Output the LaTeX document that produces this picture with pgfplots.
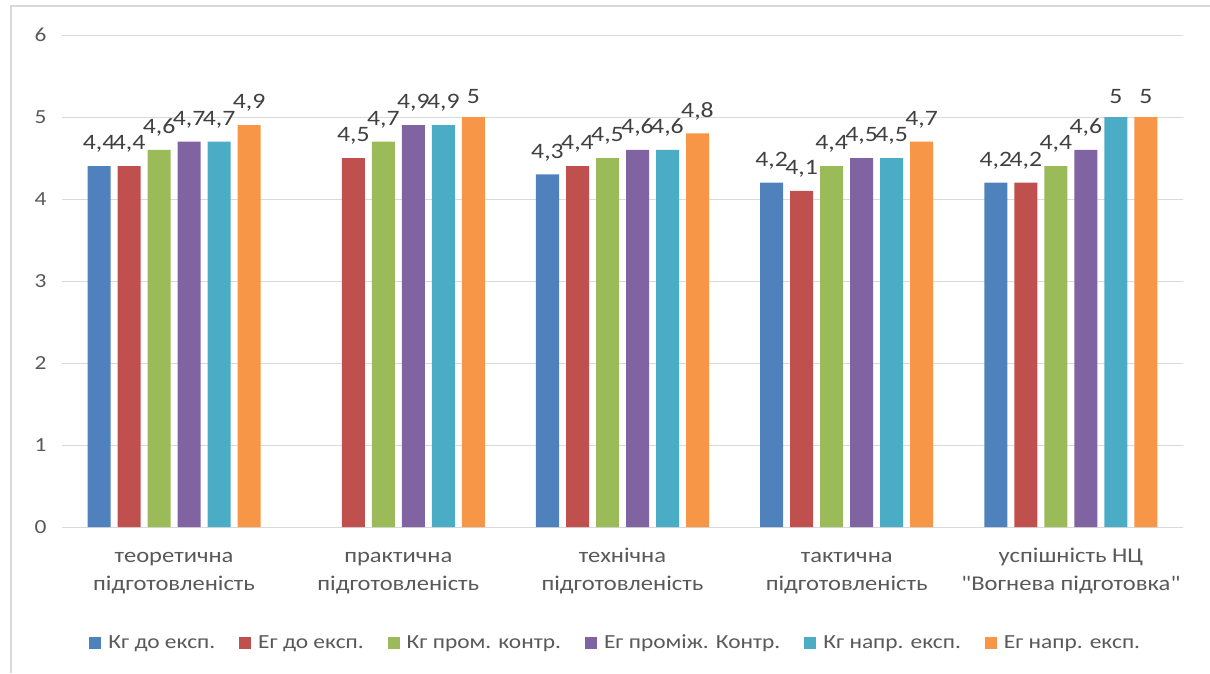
\documentclass[border=0pt]{standalone}
\usepackage{fontspec}
\setmainfont{Carlito}[FakeStretch=1.17, Ligatures=TeXOff]
\usepackage{pgfplots}
\pgfplotsset{compat=1.18}
\definecolor{s1}{HTML}{4F81BD}
\definecolor{s2}{HTML}{C0504D}
\definecolor{s3}{HTML}{9BBB59}
\definecolor{s4}{HTML}{8064A2}
\definecolor{s5}{HTML}{4BACC6}
\definecolor{s6}{HTML}{F79646}
\definecolor{txt}{HTML}{595959}
\definecolor{lbl}{HTML}{404040}
\definecolor{grd}{HTML}{D9D9D9}
\begin{document}
\begin{tikzpicture}[x=1pt,y=1pt]
\useasboundingbox (0,0) rectangle (1210,673);
\draw[grd, line width=2pt] (10.5,0) -- (10.5,667) -- (1210,667);
\begin{axis}[
  at={(62pt,146pt)}, anchor=south west,
  scale only axis, width=1121pt, height=492pt,
  ymin=0, ymax=6, ytick={0,1,...,6},
  xmin=-0.5, xmax=4.5, xtick={0,1,2,3,4},
  xticklabels={{\strut теоретична\\\strut підготовленість},{\strut практична\\\strut підготовленість},{\strut технічна\\\strut підготовленість},{\strut тактична\\\strut підготовленість},{\strut успішність НЦ\\\strut "Вогнева підготовка"}},
  xticklabel style={align=center, font=\fontsize{21}{28}\selectfont, text=txt, yshift=-12pt},
  yticklabel style={font=\fontsize{20}{20}\selectfont, text=txt, xshift=-12pt},
  /pgf/number format/assume math mode=true,
  axis line style={draw=none},
  major tick length=0pt,
  ymajorgrids, grid style={grd, line width=1pt},
  ybar=7pt, bar width=23pt,
  nodes near coords,
  nodes near coords style={font=\fontsize{22}{22}\selectfont, text=lbl, /pgf/number format/use comma, anchor=south, yshift=10pt},
  legend columns=6,
  legend style={at={(0.494,-0.235)}, anchor=center, draw=none, fill=none,
    font=\fontsize{20}{20}\selectfont, text=txt,
    /tikz/every odd column/.append style={column sep=5pt},
    /tikz/every even column/.append style={column sep=22pt}},
  legend image code/.code={\fill[#1] (0pt,-6pt) rectangle (12pt,6pt);},
]
\addplot[fill=s1, draw=none] coordinates {(0,4.4) (2,4.3) (3,4.2) (4,4.2)};
\addplot[fill=s2, draw=none] coordinates {(0,4.4) (1,4.5) (2,4.4) (3,4.1) (4,4.2)};
\addplot[fill=s3, draw=none] coordinates {(0,4.6) (1,4.7) (2,4.5) (3,4.4) (4,4.4)};
\addplot[fill=s4, draw=none] coordinates {(0,4.7) (1,4.9) (2,4.6) (3,4.5) (4,4.6)};
\addplot[fill=s5, draw=none] coordinates {(0,4.7) (1,4.9) (2,4.6) (3,4.5) (4,5)};
\addplot[fill=s6, draw=none] coordinates {(0,4.9) (1,5) (2,4.8) (3,4.7) (4,5)};
\legend{Кг до експ.,Ег до експ.,Кг пром. контр.,Ег проміж. Контр.,Кг напр. експ.,Ег напр. експ.}
\end{axis}
\end{tikzpicture}
\end{document}
